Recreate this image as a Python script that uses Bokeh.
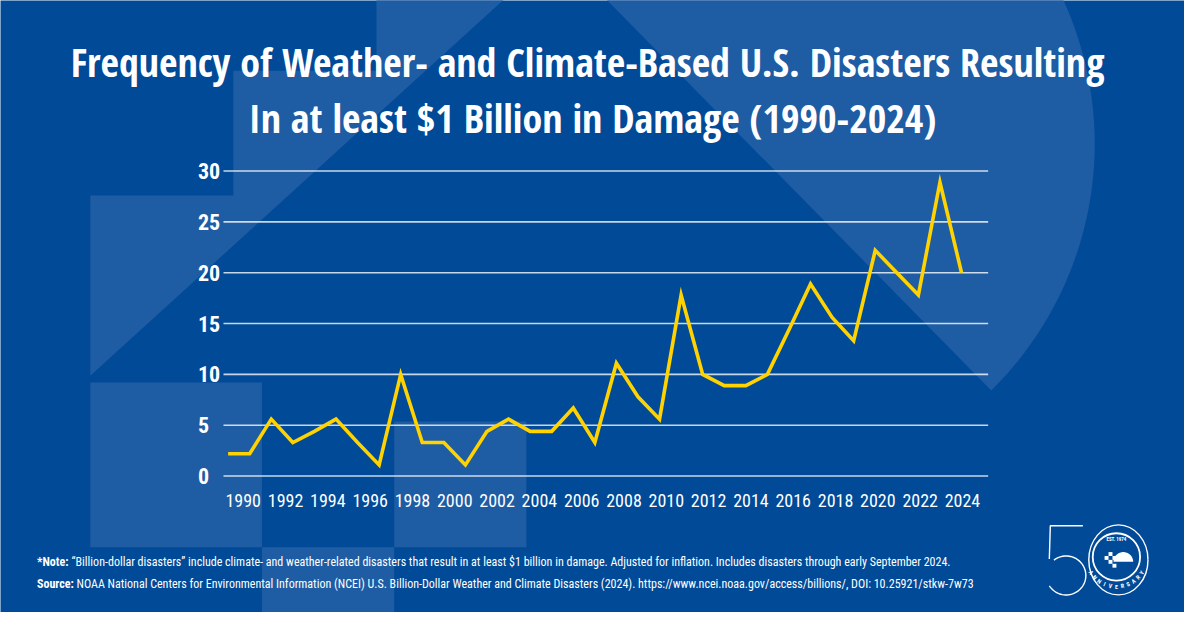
import numpy as np
from bokeh.plotting import figure
from bokeh.models import Range1d, LinearAxis, FixedTicker
from bokeh.core.properties import value
from bokeh.embed import file_html
from bokeh.resources import INLINE

# ---------------- data ----------------
years = list(range(1990, 2025))
disasters = [2.2, 2.2, 5.6, 3.3, 4.4, 5.6, 3.3, 1.1, 10.0, 3.3,
             3.3, 1.1, 4.4, 5.6, 4.4, 4.4, 6.7, 3.3, 11.1, 7.8,
             5.6, 17.8, 10.0, 8.9, 8.9, 10.0, 14.4, 18.9, 15.6, 13.3,
             22.2, 20.0, 17.8, 28.9, 20.0]
y_ticks = [0, 5, 10, 15, 20, 25, 30]
x_ticks = list(range(1990, 2025, 2))

title_lines = ["Frequency of Weather- and Climate-Based  U.S. Disasters Resulting",
               "In at least $1 Billion in Damage (1990-2024)"]
note_label = "*Note:"
note_text = ("\u201cBillion-dollar disasters\u201d include climate- and weather-related disasters that "
             "result in at least $1 billion in damage. Adjusted for inflation. Includes disasters "
             "through early September 2024.")
source_label = "Source:"
source_text = ("NOAA National Centers for Environmental Information (NCEI) U.S. Billion-Dollar "
               "Weather and Climate Disasters (2024). https://www.ncei.noaa.gov/access/billions/, "
               "DOI: 10.25921/stkw-7w73")

# ---------------- style ----------------
BG = "#004A98"
LIGHT = "#1E5CA3"
YELLOW = "#FFD200"
WHITE = "#FFFFFF"

p = figure(width=1184, height=612,
           x_range=Range1d(1979.447, 2034.337), y_range=Range1d(-13.418, 46.773),
           min_border=0, output_backend="svg", toolbar_location=None,
           x_axis_location=None, y_axis_location=None,
           background_fill_color=BG, border_fill_color=BG, outline_line_color=None)
p.grid.visible = False

# helper ranges spanning the 1200x628 artboard (for decoration / text placement)
p.extra_x_ranges = {"px": Range1d(0, 1200), "xlab": Range1d(1978.526, 2034.496)}
p.extra_y_ranges = {"py": Range1d(628, 0)}
PX = dict(x_range_name="px", y_range_name="py")

# ---------------- background decoration ----------------
stair_x = [381, 520, 91, 91, 236, 236, 381]
stair_y = [-10, -10, 385, 200, 200, 72, 72]
cx, cy, r = 751, 147, 358
th = np.deg2rad(np.linspace(45, -26.5, 80))
sect_x = [605.3] + list(cx + r * np.cos(th))
sect_y = [-10] + list(cy + r * np.sin(th))
p.patches(xs=[stair_x, sect_x], ys=[stair_y, sect_y], fill_color=LIGHT, line_color=None, **PX)
p.quad(left=[91, 265, 399], right=[265, 399, 533], top=[392, 561, 432], bottom=[561, 640, 561],
       fill_color=LIGHT, line_color=None, **PX)

# ---------------- grid lines ----------------
p.segment(x0=[226] * len(y_ticks), x1=[1001] * len(y_ticks), y0=y_ticks, y1=y_ticks,
          x_range_name="px", line_color=WHITE, line_alpha=0.78, line_width=1.6)

# ---------------- data line ----------------
p.line(years, disasters, line_color=YELLOW, line_width=3.6, line_join="miter")

# ---------------- axes ----------------
yaxis = LinearAxis(x_range_name="px", fixed_location=196, ticker=FixedTicker(ticks=y_ticks))
yaxis.axis_line_color = None
yaxis.major_tick_line_color = None
yaxis.minor_tick_line_color = None
yaxis.major_tick_out = 0
yaxis.major_tick_in = 0
yaxis.major_label_standoff = 4
yaxis.major_label_text_font = "Roboto Condensed"
yaxis.major_label_text_font_style = "bold"
yaxis.major_label_text_font_size = "22px"
yaxis.major_label_text_color = WHITE
p.add_layout(yaxis, "right")

xaxis = LinearAxis(x_range_name="xlab", y_range_name="py", fixed_location=502,
                   ticker=FixedTicker(ticks=x_ticks))
xaxis.axis_line_color = None
xaxis.major_tick_line_color = None
xaxis.minor_tick_line_color = None
xaxis.major_tick_out = 0
xaxis.major_tick_in = 0
xaxis.major_label_standoff = 4
xaxis.major_label_text_font = "Roboto Condensed"
xaxis.major_label_text_font_size = "18px"
xaxis.major_label_text_color = WHITE
p.add_layout(xaxis, "below")

# ---------------- title ----------------
p.text(x=[600, 600], y=[63, 120], text=title_lines, text_font=value("Open Sans Condensed"),
       text_font_style="bold", text_font_size="40px", text_color=WHITE,
       text_align="center", text_baseline="alphabetic", **PX)

# ---------------- footnotes ----------------
p.text(x=[37, 37], y=[576, 599], text=[note_label, source_label], text_font=value("Roboto Condensed"),
       text_font_style="bold", text_font_size="12px", text_color=WHITE,
       text_baseline="alphabetic", **PX)
p.text(x=[72, 77], y=[576, 599], text=[note_text, source_text], text_font=value("Roboto Condensed"),
       text_font_size="12px", text_color=WHITE, text_baseline="alphabetic", **PX)

# ---------------- 50th anniversary mark ----------------
p.line(x=[1097, 1064, 1063], y=[539, 539, 573], line_color=WHITE, line_width=1.4, **PX)
tb = np.deg2rad(np.linspace(-128, 148, 60))
p.line(x=list(1080 + 20 * np.cos(tb)), y=list(590 + 20 * np.sin(tb)), line_color=WHITE, line_width=1.4, **PX)
p.ellipse(x=[1133], y=[574], width=[60], height=[72], fill_color=None, line_color=WHITE, line_width=1.4, **PX)
p.circle(x=[1131], y=[571], radius=[24], fill_color=None, line_color=WHITE, line_width=1.8, **PX)
p.text(x=[1131], y=[553], text=["EST. 1974"], text_font=value("Roboto Condensed"), text_font_style="bold",
       text_font_size="5px", text_color=WHITE, text_align="center", text_baseline="middle", **PX)
letters = list("ANNIVERSARY")
phi = np.deg2rad(np.linspace(148, 32, len(letters)))
p.text(x=list(1131 + 30 * np.cos(phi)), y=list(571 + 30 * np.sin(phi)), text=letters,
       angle=list(np.pi / 2 - phi), text_font=value("Roboto Condensed"), text_font_style="bold",
       text_font_size="6px", text_color=WHITE, text_align="center", text_baseline="middle", **PX)
dt = np.linspace(0, np.pi, 30)
p.patch(x=list(1138 + 10 * np.cos(dt)), y=list(576 - 10 * np.sin(dt)), fill_color=WHITE, line_color=None, **PX)
p.quad(left=[1119, 1123, 1127, 1123, 1127], right=[1123, 1127, 1131, 1127, 1131],
       top=[570, 566, 570, 574, 578], bottom=[574, 570, 574, 578, 582],
       fill_color=WHITE, line_color=None, **PX)

open("out.html", "w").write(file_html(p, INLINE))
